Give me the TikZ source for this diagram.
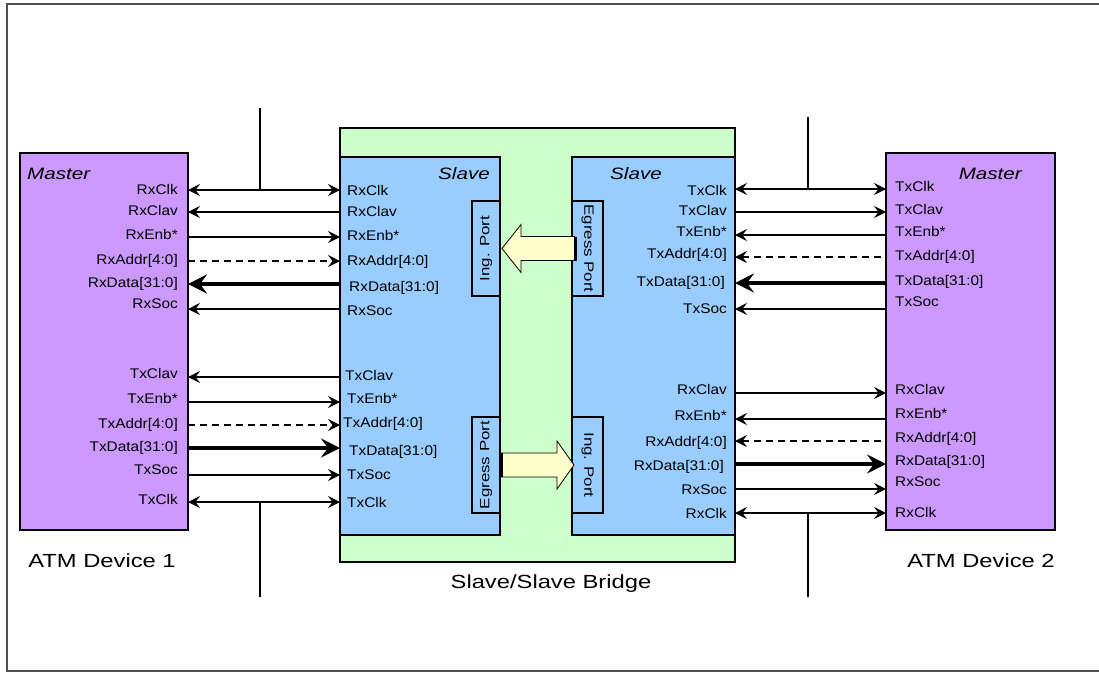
\documentclass[tikz,border=0pt]{standalone}
\usepackage{fontspec}
\setmainfont{Liberation Sans}
\newfontfamily\labf[FakeStretch=1.1]{Liberation Sans}
\newfontfamily\headf[FakeStretch=1.25]{Liberation Sans}
\usetikzlibrary{arrows.meta,calc}
\definecolor{masterc}{HTML}{CC99FF}
\definecolor{slavec}{HTML}{99CCFF}
\definecolor{bridgec}{HTML}{CCFFCC}
\definecolor{blkarrow}{HTML}{FFFFCC}
\definecolor{framec}{HTML}{505050}
\tikzset{
  >={Stealth[length=12pt,width=12pt,inset=4.5pt]},
  box/.style={draw=black, line width=1.2pt, anchor=north west, inner sep=0pt, outer sep=0pt},
  sig/.style={font=\labf\fontsize{14}{14}\selectfont, inner sep=0pt, text height=1.6ex, text depth=0.3ex},
  ml/.style={sig, anchor=east},
  mr/.style={sig, anchor=west},
  head/.style={font=\headf\itshape\fontsize{16.5}{17}\selectfont, inner sep=0pt},
  portf/.style={font=\headf\fontsize{13.5}{14}\selectfont, inner sep=0pt},
  captxt/.style={font=\headf\fontsize{19}{20}\selectfont, inner sep=0pt},
  w/.style={line width=1.5pt},
  wd/.style={line width=1.3pt, dash pattern=on 7pt off 5pt},
  wt/.style={line width=3.6pt, >={Stealth[length=19pt,width=19pt,inset=7pt]}},
  blk/.style={draw=black, line width=0.8pt, fill=blkarrow, line join=miter},
}
\begin{document}
\begin{tikzpicture}[x=1pt,y=-1pt]
\useasboundingbox (0,0) rectangle (1099,673);
\fill[white] (0,0) rectangle (1099,673);
\draw[framec, line width=1.6pt] (1102,4) -- (7,4) -- (7,671) -- (1102,671);

% boxes
\node[box, fill=bridgec, minimum width=395, minimum height=434] (br) at (340,128) {};
\node[box, fill=slavec, minimum width=160, minimum height=378] (s1) at (340,157) {};
\node[box, fill=slavec, minimum width=163, minimum height=378] (s2) at (572,157) {};
\node[box, fill=masterc, minimum width=168, minimum height=377] (m1) at (20,153) {};
\node[box, fill=masterc, minimum width=169, minimum height=377] (m2) at (886,153) {};

% ports
\node[box, fill=slavec, minimum width=28, minimum height=95] (ip1) at (472,201) {};
\node[box, fill=slavec, minimum width=31, minimum height=95] (ep2) at (572,201) {};
\node[box, fill=slavec, minimum width=28, minimum height=96] (ep1) at (472,417) {};
\node[box, fill=slavec, minimum width=31, minimum height=96] (ip2) at (572,417) {};
\node[portf, rotate=90] (ip1t) at (ip1.center) {Ing. Port};
\node[portf, rotate=-90] (ep2t) at (ep2.center) {Egress Port};
\node[portf, rotate=90] (ep1t) at (ep1.center) {Egress Port};
\node[portf, rotate=-90] (ip2t) at (ip2.center) {Ing. Port};

% block arrows
\draw[blk] ($(ep2.west)+(3,-12)$) -- ($(ep2.west)+(-51,-12)$) -- ($(ep2.west)+(-51,-24)$)
  -- ($(ip1.east)+(2,0)$) -- ($(ep2.west)+(-51,24)$) -- ($(ep2.west)+(-51,12)$)
  -- ($(ep2.west)+(3,12)$);
\draw[line width=3pt] ($(ep2.west)+(3,-12)$) -- ($(ep2.west)+(3,12)$);
\draw[blk] ($(ep1.east)+(0,-12)$) -- ($(ep1.east)+(57,-12)$) -- ($(ep1.east)+(57,-24)$)
  -- ($(ip2.west)+(2,0)$) -- ($(ep1.east)+(57,24)$) -- ($(ep1.east)+(57,12)$)
  -- ($(ep1.east)+(0,12)$);
\draw[line width=3pt] ($(ep1.east)+(1,-12)$) -- ($(ep1.east)+(1,12)$);

% headings
\node[head, anchor=west] (m1h) at (27,174) {Master};
\node[head, anchor=east] (m2h) at (1022,174) {Master};
\node[head, anchor=east] (s1h) at (490,174) {Slave};
\node[head, anchor=west] (s2h) at (610,174) {Slave};

% captions
\node[captxt] (c1) at (102,561) {ATM Device 1};
\node[captxt] (c2) at (981,561) {ATM Device 2};
\node[captxt] (c3) at (551,584) {Slave/Slave Bridge};

% ---------- left side rows ----------
\coordinate (a1) at (0,190);
\node[ml] (m1a1) at (178,191) {RxClk};
\node[mr] (s1a1) at (347,192) {RxClk};
\draw[w,<->] (m1.east |- a1) -- (s1.west |- a1);

\coordinate (a2) at (0,212);
\node[ml] (m1a2) at (178,212) {RxClav};
\node[mr] (s1a2) at (347,213) {RxClav};
\draw[w,<-] (m1.east |- a2) -- (s1.west |- a2);

\coordinate (a3) at (0,237);
\node[ml] (m1a3) at (178,236) {RxEnb*};
\node[mr] (s1a3) at (347,237) {RxEnb*};
\draw[w,->] (m1.east |- a3) -- (s1.west |- a3);

\coordinate (a4) at (0,261);
\node[ml] (m1a4) at (178,261) {RxAddr[4:0]};
\node[mr] (s1a4) at (347,262) {RxAddr[4:0]};
\draw[wd,->] (m1.east |- a4) -- (s1.west |- a4);

\coordinate (a5) at (0,284);
\node[ml] (m1a5) at (178,284) {RxData[31:0]};
\node[mr] (s1a5) at (349,288) {RxData[31:0]};
\draw[wt,<-] (m1.east |- a5) -- (s1.west |- a5);

\coordinate (a6) at (0,309);
\node[ml] (m1a6) at (178,305) {RxSoc};
\node[mr] (s1a6) at (347,312) {RxSoc};
\draw[w,<-] (m1.east |- a6) -- (s1.west |- a6);

\coordinate (a7) at (0,377);
\node[ml] (m1a7) at (178,375) {TxClav};
\node[mr] (s1a7) at (345,377) {TxClav};
\draw[w,<-] (m1.east |- a7) -- (s1.west |- a7);

\coordinate (a8) at (0,402);
\node[ml] (m1a8) at (178,400) {TxEnb*};
\node[mr] (s1a8) at (347,400) {TxEnb*};
\draw[w,->] (m1.east |- a8) -- (s1.west |- a8);

\coordinate (a9) at (0,425);
\node[ml] (m1a9) at (178,425) {TxAddr[4:0]};
\node[mr] (s1a9) at (343,424) {TxAddr[4:0]};
\draw[wd,->] (m1.east |- a9) -- (s1.west |- a9);

\coordinate (a10) at (0,448);
\node[ml] (m1a10) at (178,448) {TxData[31:0]};
\node[mr] (s1a10) at (349,452) {TxData[31:0]};
\draw[wt,->] (m1.east |- a10) -- (s1.west |- a10);

\coordinate (a11) at (0,475);
\node[ml] (m1a11) at (178,471) {TxSoc};
\node[mr] (s1a11) at (347,476) {TxSoc};
\draw[w,->] (m1.east |- a11) -- (s1.west |- a11);

\coordinate (a12) at (0,502);
\node[ml] (m1a12) at (178,501) {TxClk};
\node[mr] (s1a12) at (347,504) {TxClk};
\draw[w,<->] (m1.east |- a12) -- (s1.west |- a12);

% ---------- right side rows ----------
\coordinate (b1) at (0,189);
\node[ml] (s2b1) at (727,192) {TxClk};
\node[mr] (m2b1) at (895,188) {TxClk};
\draw[w,<->] (s2.east |- b1) -- (m2.west |- b1);

\coordinate (b2) at (0,212);
\node[ml] (s2b2) at (727,212) {TxClav};
\node[mr] (m2b2) at (895,211) {TxClav};
\draw[w,->] (s2.east |- b2) -- (m2.west |- b2);

\coordinate (b3) at (0,235);
\node[ml] (s2b3) at (727,233) {TxEnb*};
\node[mr] (m2b3) at (895,233) {TxEnb*};
\draw[w,<-] (s2.east |- b3) -- (m2.west |- b3);

\coordinate (b4) at (0,257);
\node[ml] (s2b4) at (727,255) {TxAddr[4:0]};
\node[mr] (m2b4) at (895,257) {TxAddr[4:0]};
\draw[wd,<-] (s2.east |- b4) -- (m2.west |- b4);

\coordinate (b5) at (0,283);
\node[ml] (s2b5) at (725,283) {TxData[31:0]};
\node[mr] (m2b5) at (895,282) {TxData[31:0]};
\draw[wt,<-] (s2.east |- b5) -- (m2.west |- b5);

\coordinate (b6) at (0,309);
\node[ml] (s2b6) at (727,310) {TxSoc};
\node[mr] (m2b6) at (895,303) {TxSoc};
\draw[w,<-] (s2.east |- b6) -- (m2.west |- b6);

\coordinate (b7) at (0,393);
\node[ml] (s2b7) at (727,391) {RxClav};
\node[mr] (m2b7) at (895,391) {RxClav};
\draw[w,->] (s2.east |- b7) -- (m2.west |- b7);

\coordinate (b8) at (0,419);
\node[ml] (s2b8) at (727,417) {RxEnb*};
\node[mr] (m2b8) at (895,415) {RxEnb*};
\draw[w,<-] (s2.east |- b8) -- (m2.west |- b8);

\coordinate (b9) at (0,441);
\node[ml] (s2b9) at (727,443) {RxAddr[4:0]};
\node[mr] (m2b9) at (895,439) {RxAddr[4:0]};
\draw[wd,<-] (s2.east |- b9) -- (m2.west |- b9);

\coordinate (b10) at (0,464);
\node[ml] (s2b10) at (724,467) {RxData[31:0]};
\node[mr] (m2b10) at (895,462) {RxData[31:0]};
\draw[wt,->] (s2.east |- b10) -- (m2.west |- b10);

\coordinate (b11) at (0,489);
\node[ml] (s2b11) at (727,491) {RxSoc};
\node[mr] (m2b11) at (895,483) {RxSoc};
\draw[w,->] (s2.east |- b11) -- (m2.west |- b11);

\coordinate (b12) at (0,513);
\node[ml] (s2b12) at (727,515) {RxClk};
\node[mr] (m2b12) at (895,514) {RxClk};
\draw[w,<->] (s2.east |- b12) -- (m2.west |- b12);

% ---------- vertical taps ----------
\coordinate (t1) at (260,108);
\coordinate (t2) at (808,117);
\coordinate (u1) at (260,597);
\coordinate (u2) at (808,597);
\draw[w] (t1) -- (t1 |- a1);
\draw[w] (t2) -- (t2 |- b1);
\draw[w] (u1 |- a12) -- (u1);
\draw[w] (u2 |- b12) -- (u2);
\end{tikzpicture}
\end{document}
